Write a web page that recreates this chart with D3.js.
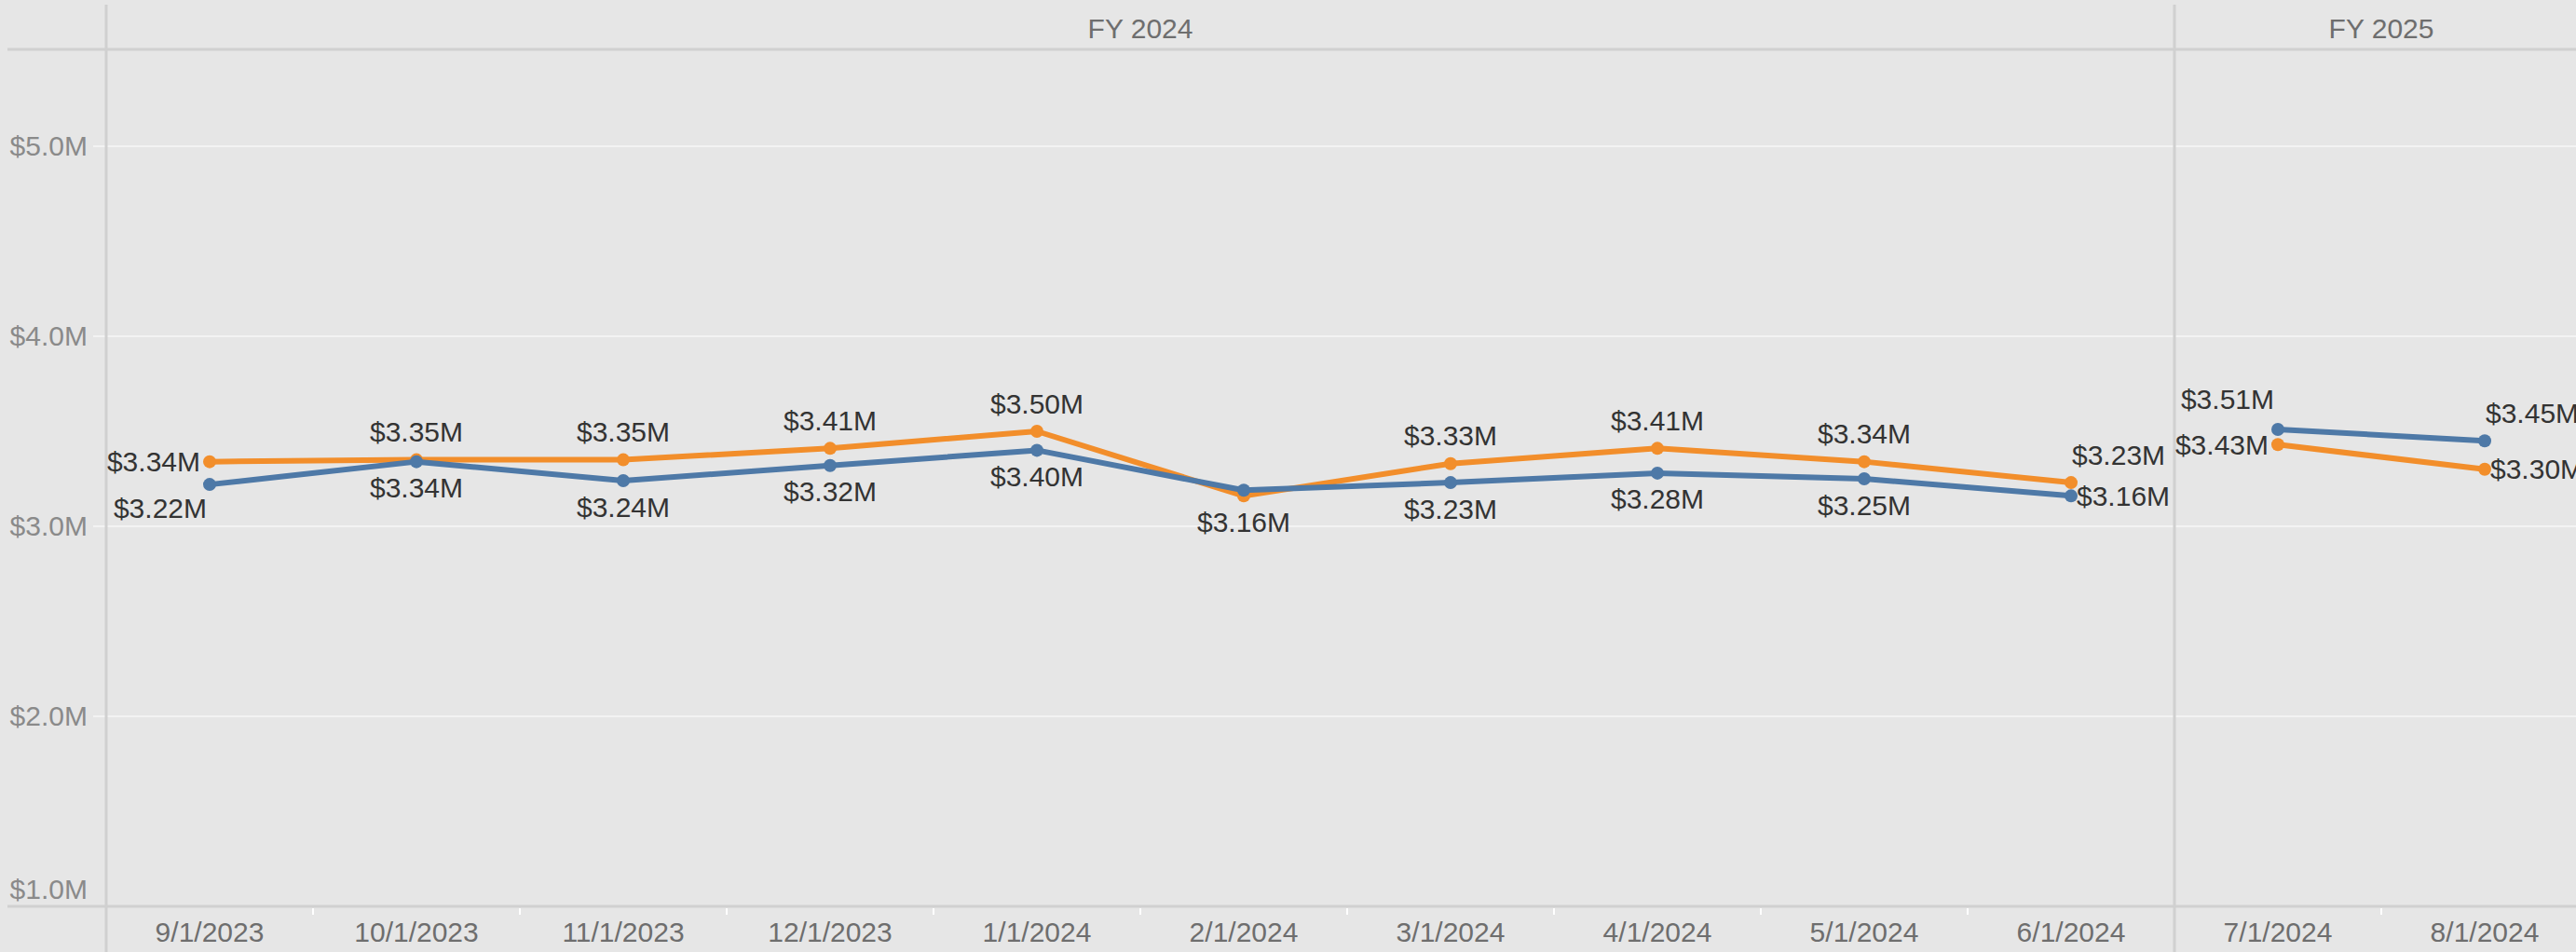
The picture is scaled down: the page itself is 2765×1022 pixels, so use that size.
<!DOCTYPE html>
<html>
<head>
<meta charset="utf-8">
<script src="https://cdn.jsdelivr.net/npm/d3@7"></script>
<style>
  body { margin: 0; background: #e6e6e6; }
  svg { display: block; font-family: 'Liberation Sans', Arial, sans-serif; }
</style>
</head>
<body>
<div class="chart"></div>
<script>
// data
const months = ['9/1/2023', '10/1/2023', '11/1/2023', '12/1/2023', '1/1/2024', '2/1/2024',
  '3/1/2024', '4/1/2024', '5/1/2024', '6/1/2024', '7/1/2024', '8/1/2024'];
const fiscalYears = ['FY 2024', 'FY 2024', 'FY 2024', 'FY 2024', 'FY 2024', 'FY 2024',
  'FY 2024', 'FY 2024', 'FY 2024', 'FY 2024', 'FY 2025', 'FY 2025'];
const orangeSeries = [3.34, 3.35, 3.35, 3.41, 3.50, 3.16, 3.33, 3.41, 3.34, 3.23, 3.43, 3.30];
const blueSeries = [3.22, 3.34, 3.24, 3.32, 3.40, 3.19, 3.23, 3.28, 3.25, 3.16, 3.51, 3.45];
const yTicks = [1, 2, 3, 4, 5];

// where each data label sits relative to its point
const orangeLabelPos = ['left', 'top', 'top', 'top', 'top', 'bottom', 'top', 'top', 'top', 'topright', 'left', 'right'];
const blueLabelPos = ['bottomleft', 'bottom', 'bottom', 'bottom', 'bottom', 'none', 'bottom', 'bottom', 'bottom', 'right', 'topleft', 'topright'];

const width = 2765;
const height = 1022;
const left = 114;
const band = 222;
const headerY = 53;
const axisY = 973;

const svg = d3
  .select('.chart')
  .append('svg')
  .attr('width', width)
  .attr('height', height)
  .attr('viewBox', [0, 0, width, height]);

svg.append('rect').attr('width', width).attr('height', height).attr('fill', '#e6e6e6');

const x = d3.scaleBand().domain(months).range([left, left + band * months.length]);
const y = d3.scaleLinear().domain([1, 5.5]).range([axisY, 55]);

// gridlines
svg
  .append('g')
  .selectAll('line')
  .data(yTicks)
  .join('line')
  .attr('x1', left - 14)
  .attr('x2', width)
  .attr('y1', (d) => y(d))
  .attr('y2', (d) => y(d))
  .attr('stroke', '#f3f3f3')
  .attr('stroke-width', 2);

// y axis labels
const yAxis = svg
  .append('g')
  .attr('transform', `translate(${left},0)`)
  .call(
    d3
      .axisLeft(y)
      .tickValues(yTicks)
      .tickSize(0)
      .tickPadding(20)
      .tickFormat((d) => `$${d.toFixed(1)}M`)
  );
yAxis.select('.domain').remove();
yAxis
  .selectAll('text')
  .attr('font-size', 30)
  .attr('font-family', null)
  .attr('fill', '#8a8a8a')
  .attr('dy', (d) => (d === 1 ? '-0.3em' : '0.32em'));

// panel frame: header line, bottom axis, separators
const fyGroups = d3.groups(months.map((m, i) => ({ m, i, fy: fiscalYears[i] })), (d) => d.fy);

svg
  .append('line')
  .attr('x1', 8)
  .attr('x2', width)
  .attr('y1', headerY)
  .attr('y2', headerY)
  .attr('stroke', '#d0d0d0')
  .attr('stroke-width', 3);

svg
  .append('line')
  .attr('x1', 8)
  .attr('x2', width)
  .attr('y1', axisY)
  .attr('y2', axisY)
  .attr('stroke', '#d0d0d0')
  .attr('stroke-width', 3);

const separators = [left].concat(fyGroups.slice(1).map(([, rows]) => x(rows[0].m)));
svg
  .append('g')
  .selectAll('line')
  .data(separators)
  .join('line')
  .attr('x1', (d) => d)
  .attr('x2', (d) => d)
  .attr('y1', 5)
  .attr('y2', height)
  .attr('stroke', '#d0d0d0')
  .attr('stroke-width', 3);

// small white ticks between months inside a fiscal year
const tickXs = months.filter((m, i) => i > 0 && fiscalYears[i] === fiscalYears[i - 1]).map((m) => x(m));
svg
  .append('g')
  .selectAll('line')
  .data(tickXs)
  .join('line')
  .attr('x1', (d) => d)
  .attr('x2', (d) => d)
  .attr('y1', axisY + 2)
  .attr('y2', axisY + 9)
  .attr('stroke', '#ffffff')
  .attr('stroke-width', 2);

// fiscal year headers
svg
  .append('g')
  .selectAll('text')
  .data(fyGroups)
  .join('text')
  .attr('x', ([, rows]) => (x(rows[0].m) + x(rows[rows.length - 1].m) + x.bandwidth()) / 2)
  .attr('y', 30)
  .attr('dy', '0.35em')
  .attr('text-anchor', 'middle')
  .attr('font-size', 30)
  .attr('fill', '#6e6e6e')
  .text(([fy]) => fy);

// x axis labels
const xAxis = svg
  .append('g')
  .attr('transform', `translate(0,${axisY})`)
  .call(d3.axisBottom(x).tickSize(0).tickPadding(17));
xAxis.select('.domain').remove();
xAxis.selectAll('text').attr('font-size', 30).attr('font-family', null).attr('fill', '#6e6e6e');

// lines and points
const series = [
  { name: 'orange', values: orangeSeries, color: '#f28e2b', pos: orangeLabelPos },
  { name: 'blue', values: blueSeries, color: '#4e79a7', pos: blueLabelPos },
];

const line = d3
  .line()
  .x((d) => x(d.m) + x.bandwidth() / 2)
  .y((d) => y(d.v));

series.forEach((s) => {
  const rows = months.map((m, i) => ({ m, v: s.values[i], fy: fiscalYears[i], pos: s.pos[i] }));
  const g = svg.append('g').attr('class', s.name);

  g.selectAll('path')
    .data(d3.groups(rows, (d) => d.fy))
    .join('path')
    .attr('d', ([, r]) => line(r))
    .attr('fill', 'none')
    .attr('stroke', s.color)
    .attr('stroke-width', 6)
    .attr('stroke-linejoin', 'round');

  g.selectAll('circle')
    .data(rows)
    .join('circle')
    .attr('cx', (d) => x(d.m) + x.bandwidth() / 2)
    .attr('cy', (d) => y(d.v))
    .attr('r', 7)
    .attr('fill', s.color);

  s.rows = rows;
});

// data labels
const offsets = {
  top: [0, -30, 'middle'],
  bottom: [0, 28, 'middle'],
  left: [-10, 0, 'end'],
  right: [6, 0, 'start'],
  topleft: [-4, -32, 'end'],
  topright: [1, -30, 'start'],
  bottomleft: [-3, 25, 'end'],
};

series.forEach((s) => {
  svg
    .append('g')
    .selectAll('text')
    .data(s.rows.filter((d) => d.pos !== 'none'))
    .join('text')
    .attr('x', (d) => x(d.m) + x.bandwidth() / 2 + offsets[d.pos][0])
    .attr('y', (d) => y(d.v) + offsets[d.pos][1])
    .attr('dy', '0.35em')
    .attr('text-anchor', (d) => offsets[d.pos][2])
    .attr('font-size', 30)
    .attr('fill', '#333333')
    .text((d) => `$${d.v.toFixed(2)}M`);
});
</script>
</body>
</html>
